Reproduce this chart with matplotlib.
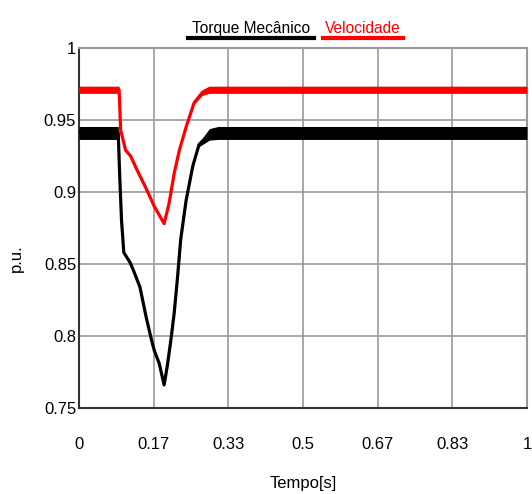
import matplotlib
matplotlib.use("Agg")
import matplotlib.pyplot as plt
from matplotlib.lines import Line2D

# data (time in s, values in p.u.)
t_torque = [0, 0.0876, 0.091, 0.095, 0.1, 0.114, 0.121, 0.136, 0.15, 0.162, 0.168,
            0.179, 0.19, 0.197, 0.205, 0.2125, 0.22, 0.227, 0.239, 0.254, 0.268,
            0.291, 0.31, 1.0]
torque = [0.941, 0.941, 0.91, 0.88, 0.858, 0.851, 0.846, 0.834, 0.813, 0.797, 0.790,
          0.781, 0.766, 0.779, 0.797, 0.816, 0.841, 0.867, 0.894, 0.918, 0.933,
          0.940, 0.941, 0.941]
torque_ripple = [0.0045, 0.0045, 0, 0, 0, 0, 0, 0, 0, 0, 0,
                 0, 0, 0, 0, 0, 0, 0, 0, 0, 0.0015,
                 0.004, 0.0045, 0.0045]

t_vel = [0, 0.0895, 0.093, 0.104, 0.115, 0.13, 0.149, 0.168, 0.19, 0.201, 0.2125,
         0.224, 0.239, 0.257, 0.275, 0.29, 1.0]
vel = [0.971, 0.971, 0.943, 0.929, 0.925, 0.915, 0.903, 0.89, 0.878, 0.892, 0.913,
       0.929, 0.945, 0.962, 0.969, 0.971, 0.971]
vel_ripple = [0.0025, 0.0025, 0, 0, 0, 0, 0, 0, 0, 0, 0,
              0, 0, 0.001, 0.002, 0.0025, 0.0025]

xtick_pos = [0, 0.1667, 0.3333, 0.5, 0.6667, 0.8333, 1.0]
xtick_labels = ['0', '0.17', '0.33', '0.5', '0.67', '0.83', '1']
ytick_pos = [0.75, 0.8, 0.85, 0.9, 0.95, 1.0]
ytick_labels = ['0.75', '0.8', '0.85', '0.9', '0.95', '1']

plt.rcParams['font.family'] = ['Liberation Sans', 'DejaVu Sans']

fig = plt.figure(figsize=(5.32, 4.94), dpi=100)
ax = fig.add_axes([79 / 532, 86 / 494, 448 / 532, 360 / 494])

ax.plot(t_torque, torque, color='black', lw=2.3, zorder=3)
ax.fill_between(t_torque, [v - r for v, r in zip(torque, torque_ripple)],
                [v + r for v, r in zip(torque, torque_ripple)], color='black', lw=0, zorder=3)
ax.plot(t_vel, vel, color='red', lw=2.3, zorder=4)
ax.fill_between(t_vel, [v - r for v, r in zip(vel, vel_ripple)],
                [v + r for v, r in zip(vel, vel_ripple)], color='red', lw=0, zorder=4)

ax.set_xlim(0, 1)
ax.set_ylim(0.75, 1)
ax.set_xticks(xtick_pos)
ax.set_xticklabels(xtick_labels)
ax.set_yticks(ytick_pos)
ax.set_yticklabels(ytick_labels)
ax.tick_params(axis='x', length=0, pad=21, labelsize=12)
ax.tick_params(axis='y', length=0, pad=2, labelsize=12)
ax.grid(True, color='#999999', lw=1.2)
ax.set_axisbelow(True)

for side in ['top', 'right']:
    ax.spines[side].set_color('#999999')
    ax.spines[side].set_linewidth(1.5)
for side in ['left', 'bottom']:
    ax.spines[side].set_color('#333333')
    ax.spines[side].set_linewidth(1.5)

ax.set_xlabel('Tempo[s]', fontsize=12, labelpad=17)
ax.set_ylabel('p.u.', fontsize=12)
ax.yaxis.set_label_coords(-0.123, 0.417)

# legend drawn as underlined coloured titles
fig.text(251 / 532, 461 / 494, 'Torque Mecânico', color='black', fontsize=11.2, ha='center', va='baseline')
fig.text(363 / 532, 461 / 494, 'Velocidade', color='red', fontsize=11.2, ha='center', va='baseline')
fig.add_artist(Line2D([188 / 532, 314 / 532], [455.5 / 494, 455.5 / 494], color='black', lw=3))
fig.add_artist(Line2D([323 / 532, 403 / 532], [455.5 / 494, 455.5 / 494], color='red', lw=3))

fig.savefig('out.png', dpi=100)
